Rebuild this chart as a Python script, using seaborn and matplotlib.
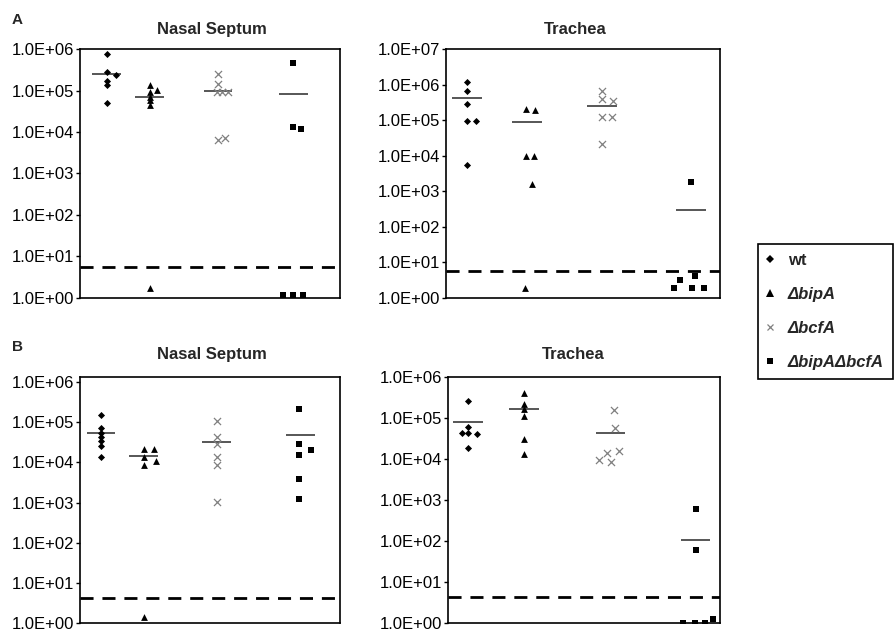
import numpy as np
import pandas as pd
import matplotlib
matplotlib.use('Agg')
import matplotlib.pyplot as plt
from matplotlib.lines import Line2D
from matplotlib.ticker import FixedLocator, FuncFormatter, NullLocator
import seaborn as sns

# Strains (same order in every panel)
groups = ['wt', 'ΔbipA', 'ΔbcfA', 'ΔbipAΔbcfA']

# A - Nasal Septum (CFU per animal, one list per strain)
a_nasal_cfu = [
    [7.8e5, 2.9e5, 2.4e5, 1.7e5, 1.4e5, 5.1e4],
    [1.4e5, 1.05e5, 9.5e4, 7.1e4, 5.9e4, 4.6e4, 1.7],
    [2.6e5, 1.45e5, 9.5e4, 9.5e4, 9.5e4, 6.5e3, 7.2e3],
    [4.6e5, 1.36e4, 1.18e4, 1.15, 1.15, 1.15],
]
a_nasal_jitter = [
    [0, 0, 0.14, 0, 0, 0],
    [0, 0.11, 0, 0, 0, 0, 0],
    [0.01, 0.01, -0.02, 0.06, 0.16, 0.01, 0.11],
    [0, -0.01, 0.12, -0.16, 0, 0.15],
]
a_nasal_pos = [0.41, 1.07, 2.12, 3.28]
a_nasal_mean = [2.6e5, 7.2e4, 1.0e5, 8.3e4]

# A - Trachea
a_trachea_cfu = [
    [1.2e6, 6.6e5, 2.9e5, 9.6e4, 9.6e4, 5.6e3],
    [2.04e5, 1.95e5, 9.5e3, 9.5e3, 1.58e3, 1.8],
    [6.7e5, 3.9e5, 3.5e5, 1.2e5, 1.2e5, 2.2e4],
    [1.76e3, 3.1, 4.0, 1.8, 1.8, 1.8],
]
a_trachea_jitter = [
    [0, 0, 0, 0, 0.13, 0],
    [-0.01, 0.12, -0.01, 0.10, 0.08, -0.02],
    [0, 0, 0.16, 0, 0.14, 0],
    [0, -0.17, 0.05, -0.25, 0.01, 0.18],
]
a_trachea_pos = [0.31, 1.18, 2.28, 3.58]
a_trachea_mean = [4.1e5, 8.9e4, 2.6e5, 290]

# B - Nasal Septum
b_nasal_cfu = [
    [1.5e5, 7.0e4, 5.5e4, 4.3e4, 3.4e4, 2.6e4, 1.35e4],
    [2.15e4, 2.2e4, 1.4e4, 1.1e4, 8.7e3, 1.4],
    [1.05e5, 4.2e4, 2.8e4, 1.35e4, 8.5e3, 1.05e3],
    [2.2e5, 2.8e4, 2.0e4, 1.55e4, 3.8e3, 1.2e3],
]
b_nasal_jitter = [
    [0, 0, 0, 0, 0, 0, 0],
    [0, 0.16, 0, 0.19, 0, 0],
    [0, 0, 0, 0, 0, 0],
    [-0.02, -0.02, 0.17, -0.02, -0.02, -0.02],
]
b_nasal_pos = [0.32, 0.98, 2.10, 3.39]
b_nasal_mean = [5.5e4, 1.45e4, 3.25e4, 4.7e4]

# B - Trachea
b_trachea_cfu = [
    [2.6e5, 5.8e4, 4.3e4, 4.3e4, 3.9e4, 1.8e4],
    [4.0e5, 2.1e5, 1.6e5, 1.1e5, 3.0e4, 1.3e4],
    [1.5e5, 5.5e4, 1.4e4, 1.58e4, 9.2e3, 8.4e3],
    [590, 59, 1.0, 1.0, 1.0, 1.25],
]
b_trachea_jitter = [
    [0, 0, -0.10, 0, 0.13, 0],
    [0, 0, 0, 0, 0, 0],
    [0.05, 0.06, -0.05, 0.12, -0.17, 0],
    [0, 0, -0.18, -0.01, 0.14, 0.26],
]
b_trachea_pos = [0.30, 1.12, 2.39, 3.64]
b_trachea_mean = [7.7e4, 1.6e5, 4.1e4, 105]

# detection limits (dashed lines)
lod_a = [5.5, 5.6]
lod_b = [4.1, 4.3]

sns.set_theme(style='white')
plt.rcParams['font.family'] = ['Liberation Sans', 'DejaVu Sans']

point_style = {
    'wt': dict(marker='D', s=13, color='black', edgecolor='black', linewidth=0),
    'ΔbipA': dict(marker='^', s=24, color='black', edgecolor='black', linewidth=0),
    'ΔbcfA': dict(marker='x', s=26, color='#808080', linewidth=0.9),
    'ΔbipAΔbcfA': dict(marker='s', s=24, color='black', edgecolor='black', linewidth=0),
}

W, H = 896, 633
fig = plt.figure(figsize=(W / 100, H / 100), dpi=100)


def px_rect(left, top, right, bottom):
    return [left / W, 1 - bottom / H, (right - left) / W, (bottom - top) / H]


def draw_panel(ax, title, cfu, jitter, pos, means, lod, ylog_top, title_x, title_pad):
    rows = []
    for g, vals, jit, x0 in zip(groups, cfu, jitter, pos):
        for v, j in zip(vals, jit):
            rows.append({'group': g, 'x': x0 + j, 'cfu': v})
    df = pd.DataFrame(rows)

    ax.set_yscale('log')
    for g in groups:
        sns.scatterplot(data=df[df['group'] == g], x='x', y='cfu', ax=ax,
                        legend=False, zorder=3, **point_style[g])

    # group means
    pos = np.array(pos)
    ax.hlines(means, pos - 0.22, pos + 0.22, color='#3a3a3a', lw=1.2, zorder=2)
    # limit of detection
    ax.axhline(lod, color='black', lw=2, dashes=(4.7, 3.2), zorder=1)

    ax.set_xlim(0, 4)
    ax.set_ylim(1, 10 ** ylog_top)
    ax.yaxis.set_major_locator(FixedLocator([10.0 ** k for k in range(int(ylog_top) + 1)]))
    ax.yaxis.set_major_formatter(FuncFormatter(lambda v, p: f'{v:.1E}'))
    ax.yaxis.set_minor_locator(NullLocator())
    ax.set_xticks([])
    ax.set_xlabel('')
    ax.set_ylabel('')
    ax.tick_params(axis='y', left=True, length=3, width=1, pad=1.5,
                   labelsize=12, colors='black')
    for sp in ax.spines.values():
        sp.set_color('black')
        sp.set_linewidth(1.2)
    ax.set_title(title, fontsize=12, fontweight='bold', x=title_x, pad=title_pad)


ax1 = fig.add_axes(px_rect(80, 49.3, 340, 297.5))
draw_panel(ax1, 'Nasal Septum', a_nasal_cfu, a_nasal_jitter, a_nasal_pos,
           a_nasal_mean, lod_a[0], 6, 0.507, 10.8)

ax2 = fig.add_axes(px_rect(446, 49.3, 720, 297.5))
draw_panel(ax2, 'Trachea', a_trachea_cfu, a_trachea_jitter, a_trachea_pos,
           a_trachea_mean, lod_a[1], 7, 0.473, 10.8)

ax3 = fig.add_axes(px_rect(80, 376.5, 340, 623))
draw_panel(ax3, 'Nasal Septum', b_nasal_cfu, b_nasal_jitter, b_nasal_pos,
           b_nasal_mean, lod_b[0], 6.14, 0.508, 12.4)

ax4 = fig.add_axes(px_rect(448, 376.5, 720, 623))
draw_panel(ax4, 'Trachea', b_trachea_cfu, b_trachea_jitter, b_trachea_pos,
           b_trachea_mean, lod_b[1], 6, 0.46, 12.4)

fig.text(11.7 / W, 1 - 20 / H, 'A', ha='left', va='center', fontsize=11, fontweight='bold')
fig.text(11.7 / W, 1 - 346.7 / H, 'B', ha='left', va='center', fontsize=11, fontweight='bold')

# Legend
handles = [
    Line2D([], [], ls='', marker='D', ms=4, color='black', mew=0),
    Line2D([], [], ls='', marker='^', ms=5.5, color='black', mew=0),
    Line2D([], [], ls='', marker='x', ms=5, color='#808080', mew=0.9),
    Line2D([], [], ls='', marker='s', ms=4.5, color='black', mew=0),
]
leg = fig.legend(handles, groups, loc='upper left',
                 bbox_to_anchor=(758 / W, 1 - 244 / H), borderaxespad=0,
                 frameon=True, fancybox=False, edgecolor='black', framealpha=1,
                 prop={'size': 12, 'weight': 'bold'}, borderpad=0.55,
                 handlelength=0.3, handletextpad=0.95, labelspacing=1.14)
leg.get_frame().set_linewidth(1.2)
for t in leg.get_texts()[1:]:
    t.set_style('italic')

fig.savefig('out.png', dpi=100)
